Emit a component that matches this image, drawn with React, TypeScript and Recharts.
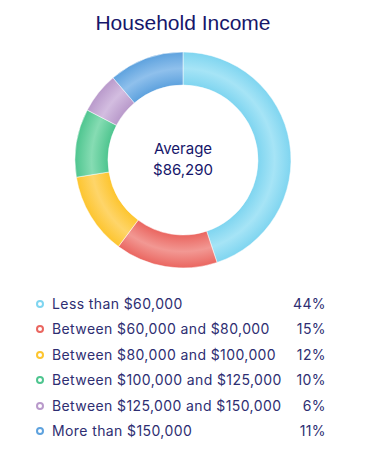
import React from "react";
import { PieChart, Pie, Cell, Legend } from "recharts";

const categories = [
  "Less than $60,000",
  "Between $60,000 and $80,000",
  "Between $80,000 and $100,000",
  "Between $100,000 and $125,000",
  "Between $125,000 and $150,000",
  "More than $150,000",
];
const shares = [44, 15, 12, 10, 6, 11];
const colors = ["#7fd5f0", "#ea6660", "#fdc52f", "#4ec58f", "#b99acb", "#5ea2de"];
const lightColors = ["#a6e4f6", "#f29893", "#fed56a", "#86dcb3", "#d3bde0", "#8fc0ec"];
const title = "Household Income";
const centerLabel = "Average";
const centerValue = "$86,290";

const data = categories.map((name, i) => ({ name, value: shares[i] }));

const CX = 183;
const CY = 160;
const OR = 108;
const IR = 75;
const TEXT = "#16166a";
const FONT = "Inter, 'Noto Sans', sans-serif";

const LegendContent = () => (
  <div style={{ position: "relative", width: 365, fontFamily: FONT }}>
    {data.map((d, i) => (
      <div
        key={d.name}
        style={{
          position: "absolute",
          left: 0,
          top: i * 25.4,
          width: 365,
          height: 20,
        }}
      >
        <div
          style={{
            position: "absolute",
            left: 36,
            top: 5,
            width: 4,
            height: 4,
            borderRadius: "50%",
            border: `2.5px solid ${colors[i]}`,
          }}
        />
        <div
          style={{
            position: "absolute",
            left: 52,
            top: 0,
            fontSize: 14,
            lineHeight: "18px",
            letterSpacing: "0.4px",
            color: "#2e2e72",
            whiteSpace: "nowrap",
          }}
        >
          {d.name}
        </div>
        <div
          style={{
            position: "absolute",
            right: 365 - 326,
            top: 0,
            fontSize: 14,
            lineHeight: "18px",
            letterSpacing: "0.4px",
            color: "#2e2e72",
            whiteSpace: "nowrap",
          }}
        >
          {d.value}%
        </div>
      </div>
    ))}
  </div>
);

export default function App() {
  return (
    <div style={{ position: "absolute", left: 0, top: 0, width: 365, height: 467, background: "#fff" }}>
      <PieChart width={365} height={467} margin={{ top: 0, right: 0, bottom: 0, left: 0 }}>
        <defs>
          {colors.map((c, i) => (
            <radialGradient
              key={i}
              id={`grad${i}`}
              gradientUnits="userSpaceOnUse"
              cx={CX}
              cy={CY}
              r={OR}
            >
              <stop offset={IR / OR} stopColor={c} />
              <stop offset={(IR / OR + 1) / 2} stopColor={lightColors[i]} />
              <stop offset={1} stopColor={c} />
            </radialGradient>
          ))}
        </defs>
        <text
          x={CX}
          y={30}
          textAnchor="middle"
          fontFamily="'Liberation Sans', Arial, sans-serif"
          fontSize={21}
          fill={TEXT}
        >
          {title}
        </text>
        <Pie
          data={data}
          dataKey="value"
          nameKey="name"
          cx={CX}
          cy={CY}
          innerRadius={IR}
          outerRadius={OR}
          startAngle={90}
          endAngle={-270}
          stroke="#ffffff"
          strokeWidth={0.5}
          isAnimationActive={false}
        >
          {data.map((d, i) => (
            <Cell key={d.name} fill={`url(#grad${i})`} />
          ))}
        </Pie>
        <text x={CX} y={154} textAnchor="middle" fontFamily={FONT} fontSize={15} fill={TEXT}>
          {centerLabel}
        </text>
        <text x={CX} y={175} textAnchor="middle" fontFamily={FONT} fontSize={15} fill={TEXT}>
          {centerValue}
        </text>
        <Legend
          content={<LegendContent />}
          wrapperStyle={{ position: "absolute", left: 0, top: 295, width: 365, height: 160 }}
        />
      </PieChart>
    </div>
  );
}
